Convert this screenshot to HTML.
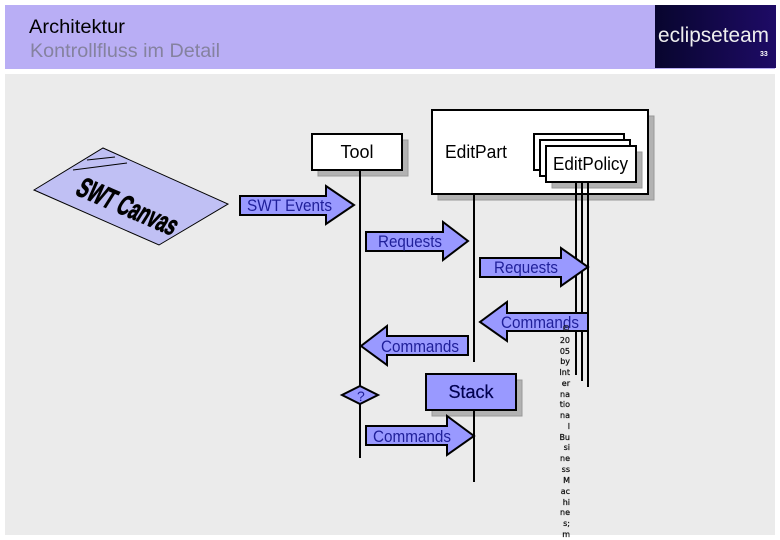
<!DOCTYPE html>
<html><head><meta charset="utf-8"><style>
html,body{margin:0;padding:0;background:#fff}
svg{display:block}
text{font-family:"Liberation Sans",sans-serif}
.a{fill:#9999ff;stroke:#000;stroke-width:2;stroke-linejoin:miter}
.l{stroke:#000;stroke-width:2;fill:none}
.t{font-size:17px;fill:#20209a}
.b{fill:#fff;stroke:#000;stroke-width:2}
.s{fill:#b2b2b2;stroke:#999}
.n{font-family:"DejaVu Sans",sans-serif;font-size:8px;fill:#111;stroke:#111;stroke-width:0.25;text-anchor:end}
</style></head><body>
<svg width="780" height="540" viewBox="0 0 780 540" xmlns="http://www.w3.org/2000/svg">
<defs><linearGradient id="g" x1="0" x2="1" y1="0" y2="0"><stop offset="0" stop-color="#08052e"/><stop offset="1" stop-color="#1e0b66"/></linearGradient></defs>
<rect width="780" height="540" fill="#fff"/>
<rect x="5" y="5" width="770" height="64" fill="#b9aef5"/>
<rect x="655" y="5" width="121" height="63" fill="url(#g)"/>
<rect x="5" y="74" width="770" height="461" fill="#ebebeb"/>
<text x="29" y="33" font-size="19.5" fill="#000" textLength="96" lengthAdjust="spacingAndGlyphs">Architektur</text>
<text x="30" y="57" font-size="19.5" fill="#85829f" textLength="190" lengthAdjust="spacingAndGlyphs">Kontrollfluss im Detail</text>
<text x="658" y="42" font-size="21" fill="#eeeeee" textLength="111" lengthAdjust="spacingAndGlyphs">eclipseteam</text>
<text x="760" y="56" font-size="7" font-weight="bold" fill="#fff">33</text>

<polygon points="103,148 228,204 159,245 34,190" fill="#c0c0f4" stroke="#000" stroke-width="1"/>
<line x1="73" y1="170" x2="127" y2="163" stroke="#000" stroke-width="1"/>
<line x1="87" y1="160" x2="115" y2="157" stroke="#000" stroke-width="1"/>
<text transform="matrix(0.84,0.36,-0.6,0.95,74,194)" font-size="26" font-weight="bold" fill="#000" stroke="#000" stroke-width="0.8" textLength="116" lengthAdjust="spacingAndGlyphs">SWT Canvas</text>

<rect class="s" x="318" y="140" width="90" height="36"/>
<rect class="b" x="312" y="134" width="90" height="36"/>
<text x="357" y="158" font-size="18" text-anchor="middle" fill="#000">Tool</text>

<rect class="s" x="438" y="116" width="216" height="84"/>
<rect class="b" x="432" y="110" width="216" height="84"/>
<text x="445" y="158" font-size="18" fill="#000" textLength="62" lengthAdjust="spacingAndGlyphs">EditPart</text>

<rect class="b" x="534" y="134" width="90" height="36"/>
<rect class="b" x="540" y="140" width="90" height="36"/>
<rect class="s" x="552" y="152" width="90" height="36"/>
<rect class="b" x="546" y="146" width="90" height="36"/>
<text x="553" y="170" font-size="18" fill="#000" textLength="75" lengthAdjust="spacingAndGlyphs">EditPolicy</text>

<line class="l" x1="360" y1="170" x2="360" y2="458"/>
<line class="l" x1="474" y1="194" x2="474" y2="362"/>
<line class="l" x1="576" y1="182" x2="576" y2="375"/>
<line class="l" x1="582" y1="182" x2="582" y2="381"/>
<line class="l" x1="588" y1="182" x2="588" y2="387"/>

<polygon class="a" points="240,196 326,196 326,186 354,205 326,224 326,215 240,215"/>
<text class="t" x="247" y="211" textLength="85" lengthAdjust="spacingAndGlyphs">SWT Events</text>
<polygon class="a" points="366,232 443,232 443,222 468,241 443,260 443,251 366,251"/>
<text class="t" x="378" y="247" textLength="64" lengthAdjust="spacingAndGlyphs">Requests</text>
<polygon class="a" points="480,258 561,258 561,248 588,267 561,286 561,277 480,277"/>
<text class="t" x="494" y="273" textLength="64" lengthAdjust="spacingAndGlyphs">Requests</text>
<polygon class="a" points="588,313 507,313 507,302 480,322 507,341 507,331 588,331"/>
<text class="t" x="501" y="328" textLength="78" lengthAdjust="spacingAndGlyphs">Commands</text>
<polygon class="a" points="468,336 387,336 387,326 361,346 387,365 387,355 468,355"/>
<text class="t" x="381" y="352" textLength="78" lengthAdjust="spacingAndGlyphs">Commands</text>
<polygon class="a" points="360,386 378,395 360,404 342,395"/>
<text class="t" x="357" y="401" style="font-size:14px">?</text>

<rect class="s" x="432" y="380" width="90" height="36"/>
<rect class="a" x="426" y="374" width="90" height="36"/>
<text x="471" y="398" font-size="18" text-anchor="middle" fill="#000050" stroke="#000050" stroke-width="0.2">Stack</text>
<line class="l" x1="474" y1="410" x2="474" y2="482"/>

<polygon class="a" points="366,426 447,426 447,416 474,436 447,455 447,445 366,445"/>
<text class="t" x="373" y="442" textLength="78" lengthAdjust="spacingAndGlyphs">Commands</text>

<text class="n" x="570" y="331">©</text>
<text class="n" x="570" y="343">20</text>
<text class="n" x="570" y="354">05</text>
<text class="n" x="570" y="364">by</text>
<text class="n" x="570" y="375">Int</text>
<text class="n" x="570" y="386">er</text>
<text class="n" x="570" y="397">na</text>
<text class="n" x="570" y="407">tio</text>
<text class="n" x="570" y="418">na</text>
<text class="n" x="570" y="429">l</text>
<text class="n" x="570" y="440">Bu</text>
<text class="n" x="570" y="450">si</text>
<text class="n" x="570" y="461">ne</text>
<text class="n" x="570" y="472">ss</text>
<text class="n" x="570" y="483">M</text>
<text class="n" x="570" y="494">ac</text>
<text class="n" x="570" y="505">hi</text>
<text class="n" x="570" y="515">ne</text>
<text class="n" x="570" y="526">s;</text>
<text class="n" x="570" y="537">m</text>
</svg>
</body></html>
